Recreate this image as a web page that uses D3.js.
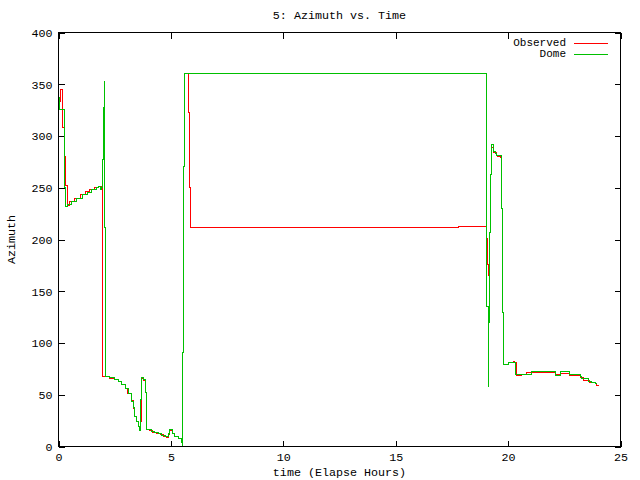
<!DOCTYPE html>
<html>
<head>
<meta charset="utf-8">
<script src="https://cdn.jsdelivr.net/npm/d3@7/dist/d3.min.js"></script>
<style>
  body { margin: 0; background: #fff; }
  svg text { font-family: "Liberation Mono", "DejaVu Sans Mono", monospace; font-size: 11.7px; fill: #000; }
</style>
</head>
<body>
<div id="chart"></div>
<script>
// values (hours, degrees)
var obsTime = [0, 0.11, 0.2, 0.27, 0.33, 0.38, 0.51, 0.73, 0.96, 1.18, 1.4, 1.62, 1.76, 1.85, 1.93, 1.95, 2.02, 2.29, 2.51, 2.65,
  2.82, 2.96, 3.09, 3.25, 3.34, 3.4, 3.47, 3.55, 3.59, 3.63, 3.67, 3.76, 3.85, 3.91, 4.07, 4.2, 4.36, 4.52, 4.65, 4.8,
  4.88, 4.94, 5.07, 5.18, 5.33, 5.47, 5.5, 5.51, 5.55, 5.6, 5.77, 5.82, 5.86, 17.8, 19.02, 19.1, 19.12, 19.16, 19.23, 19.27,
  19.35, 19.49, 19.55, 19.68, 19.72, 19.76, 19.79, 20.01, 20.23, 20.28, 20.36, 20.6, 20.8, 22.09, 22.31, 22.72, 23.2, 23.35, 23.64, 23.87,
  23.94, 24.0];
var obsAz = [333, 345, 308, 280, 252, 233, 237, 240, 243, 246, 248, 250, 251, 249, 251, 68, 68, 66, 64.5, 62.5,
  60, 56, 51, 44, 37, 29, 24.5, 19, 16, 24.5, 66, 64, 52, 16, 15.5, 14, 13, 11.5, 10, 8.5,
  12, 15.5, 12.6, 10, 7.4, 3.6, 2, 91, 271, 360, 323, 250, 212, 213, 201, 176, 165, 207, 263, 289,
  284, 281, 280, 279, 230, 129, 79, 81.5, 82.5, 81, 68.6, 69.9, 71.2, 69.6, 70.2, 68.6, 66.4, 64, 62.1, 60.6,
  59.2, 58.5];

var domeTime = [0, 0.04, 0.27, 0.33, 0.42, 0.6, 0.82, 1.05, 1.27, 1.49, 1.67, 1.76, 1.85, 1.93, 1.95, 1.98, 2.03, 2.05, 2.07, 2.29,
  2.51, 2.66, 2.81, 2.96, 3.1, 3.26, 3.33, 3.4, 3.48, 3.55, 3.59, 3.63, 3.66, 3.7, 3.78, 3.85, 3.92, 4.15, 4.29, 4.45,
  4.6, 4.76, 4.88, 4.93, 5.08, 5.18, 5.33, 5.48, 5.5, 5.51, 5.55, 5.6, 19.02, 19.05, 19.12, 19.13, 19.16, 19.21, 19.26, 19.34,
  19.42, 19.5, 19.72, 19.76, 19.79, 20.01, 20.31, 21.05, 22.09, 22.31, 22.72, 23.2, 23.27, 23.57, 23.72, 23.87, 23.96];
var domeAz = [337, 326, 250, 232, 234, 237, 240, 243, 245.5, 248, 250, 251, 248, 250, 277, 328, 353, 212, 68, 66.3,
  64.7, 62.5, 60, 55.7, 51.2, 43.8, 37.4, 29.3, 24.5, 19.6, 15.5, 24.5, 45, 66.4, 65, 52, 16.4, 14.8, 13.8, 12.6,
  10.6, 9.3, 12.6, 16.4, 12.6, 10, 7.4, 3.6, 0.5, 91, 271, 360, 285, 135.5, 58.3, 119.5, 206.5, 262.8, 292, 285,
  283, 281, 229.6, 129, 79.2, 80.9, 69.6, 72.2, 68.6, 72.2, 69.6, 67.3, 65.4, 63.1, 61.5, 60.6, 60.6];

var xTicks = [0, 5, 10, 15, 20, 25];
var yTicks = [0, 50, 100, 150, 200, 250, 300, 350, 400];
var seriesNames = ["Observed", "Dome"];
var seriesColors = ["#ff0000", "#00c000"];

var width = 640, height = 480;
var plotLeft = 58.5, plotRight = 620.5, plotTop = 32.5, plotBottom = 446.5;

var svg = d3.select("#chart").append("svg")
  .attr("width", width)
  .attr("height", height);

var x = d3.scaleLinear().domain([0, 25]).range([plotLeft, plotRight]);
var y = d3.scaleLinear().domain([0, 400]).range([plotBottom, plotTop]);

// axes, ticks pointing in, mirrored on top/right
svg.append("g").attr("transform", `translate(0,${plotBottom})`)
  .call(d3.axisBottom(x).tickValues(xTicks).tickSize(-6).tickPadding(6).tickFormat(d3.format("d")));
svg.append("g").attr("transform", `translate(0,${plotTop})`)
  .call(d3.axisTop(x).tickValues(xTicks).tickSize(-6).tickFormat(""));
svg.append("g").attr("transform", `translate(${plotLeft},0)`)
  .call(d3.axisLeft(y).tickValues(yTicks).tickSize(-6).tickPadding(6).tickFormat(d3.format("d")));
svg.append("g").attr("transform", `translate(${plotRight},0)`)
  .call(d3.axisRight(y).tickValues(yTicks).tickSize(-6).tickFormat(""));

svg.selectAll(".domain").remove();
svg.selectAll(".tick line").attr("stroke", "#000").attr("shape-rendering", "crispEdges");
svg.selectAll(".tick text").attr("font-family", null).attr("font-size", null);

svg.append("rect")
  .attr("x", plotLeft).attr("y", plotTop)
  .attr("width", plotRight - plotLeft).attr("height", plotBottom - plotTop)
  .attr("fill", "none").attr("stroke", "#000")
  .attr("shape-rendering", "crispEdges");

var line = d3.line()
  .x(d => x(d[0]))
  .y(d => y(d[1]))
  .curve(d3.curveStepAfter);

var series = [
  d3.zip(obsTime, obsAz),
  d3.zip(domeTime, domeAz)
];

series.forEach(function(s, i) {
  svg.append("path")
    .datum(s)
    .attr("d", line)
    .attr("fill", "none")
    .attr("stroke", seriesColors[i])
    .attr("stroke-width", 1)
    .attr("shape-rendering", "crispEdges");
});

// key
seriesNames.forEach(function(name, i) {
  var ky = 43 + i * 11;
  svg.append("text")
    .attr("x", 566).attr("y", ky)
    .attr("text-anchor", "end")
    .attr("dominant-baseline", "middle")
    .style("font-size", "11px")
    .text(name);
  svg.append("line")
    .attr("x1", 574).attr("x2", 608)
    .attr("y1", ky + 0.5).attr("y2", ky + 0.5)
    .attr("stroke", seriesColors[i])
    .attr("stroke-width", 1)
    .attr("shape-rendering", "crispEdges");
});

svg.append("text")
  .attr("x", (plotLeft + plotRight) / 2).attr("y", 16)
  .attr("text-anchor", "middle")
  .attr("dominant-baseline", "middle")
  .text("5: Azimuth vs. Time");

svg.append("text")
  .attr("x", (plotLeft + plotRight) / 2).attr("y", 473)
  .attr("text-anchor", "middle")
  .attr("dominant-baseline", "middle")
  .text("time (Elapse Hours)");

svg.append("text")
  .attr("transform", `translate(12,${(plotTop + plotBottom) / 2}) rotate(-90)`)
  .attr("text-anchor", "middle")
  .attr("dominant-baseline", "middle")
  .text("Azimuth");
</script>
</body>
</html>
